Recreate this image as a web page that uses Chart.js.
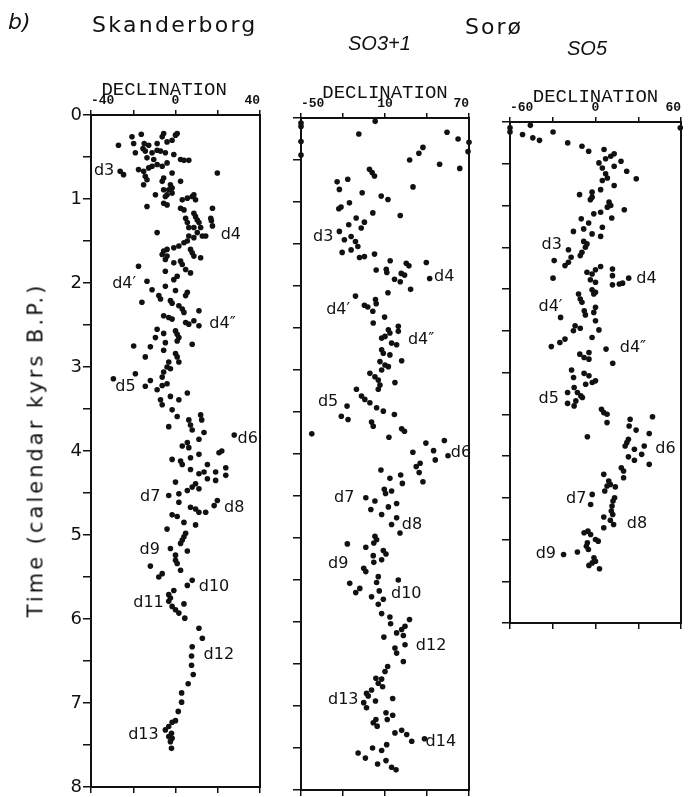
<!DOCTYPE html>
<html>
<head>
<meta charset="utf-8">
<script src="https://cdn.jsdelivr.net/npm/chart.js@4.4.1/dist/chart.umd.min.js"></script>
<style>
  body { margin: 0; background: #fff; }
  #page { position: relative; width: 690px; height: 797px; overflow: hidden; color: #111; font-family: "DejaVu Sans", sans-serif; }
  #page canvas { position: absolute; left: 0; top: 0; }
  .txt { position: absolute; white-space: nowrap; line-height: 1; }
</style>
</head>
<body>
<div id="page">
  <canvas id="skan" width="690" height="797"></canvas>
  <canvas id="so31" width="690" height="797"></canvas>
  <canvas id="so5" width="690" height="797"></canvas>
  <div class="txt" style="left:8px;top:11px;font-size:22px;font-style:italic">b)</div>
  <div class="txt" style="left:92px;top:14px;font-size:22px;letter-spacing:2.3px">Skanderborg</div>
  <div class="txt" style="left:465px;top:16px;font-size:22px;letter-spacing:2px">Sorø</div>
  <div class="txt" style="left:348px;top:33px;font-size:20px;font-style:italic;font-family:'Liberation Sans'">SO3+1</div>
  <div class="txt" style="left:567px;top:38px;font-size:20px;font-style:italic;font-family:'Liberation Sans'">SO5</div>
  <div class="txt" style="left:36px;top:450px;font-size:21px;letter-spacing:3px;transform:translate(-50%,-50%) rotate(-90deg)">Time (calendar kyrs B.P.)</div>
</div>
<script>
// Skanderborg: declination (deg) and age (calendar kyrs B.P.)
const skanDec = [
  -27.0, -20.6, -16.2, -19.8, -14.8, -12.7, -15.4, -8.7, -5.6, -6.3, -4.0, -1.6, 0, 0.8,
  -19.0, -14.3, -11.1, -8.7, -7.1, -4.8, -0.8, -13.5, -10.3, 2.4, 4.0, 6.3,
  -26.2, -24.6, -17.5, -15.1, -12.7, -11.1, -8.7, -6.3, -4.0, -14.3, -13.5, -15.1, 19.8, -1.6,
  -5.6, -6.3, 2.4, -2.4, -1.6, -3.2, -5.6, -4.0, -1.6, -9.5, -4.8,
  -13.5, -5.6, -4.0, 3.2, 5.6, 7.9, 8.7, 9.5, 2.4, 4.0, 17.5, 8.7, 9.5, 10.3, 11.1, 16.7, 17.0, 17.5,
  4.8, 5.6, 6.3, 8.7, 11.9, 10.3, 12.7, -8.7, 14.3, 6.3, 8.7, 5.6, 4.0, 1.6, -0.8,
  -4.0, -5.6, -6.3, -4.0, -4.8, 7.1, 7.9, 8.7, 11.9, -0.8, 2.4, 3.2, 4.8, 7.1, -17.5, -4.8,
  0.8, -0.8, -13.5, -11.1, -4.8, 0, 5.6, 4.8, -7.9, -7.1, -15.9, -2.4, -1.6, 11.1, 1.6, 3.2, 4.0,
  -5.6, -3.2, -1.6, 4.8, 6.3, 8.7, 11.1, -8.7, 0, 0.8, 1.6, 0.8, -9.5, -5.6, -4.8, -19.8, -11.9, 7.9,
  -5.6, -14.3, 0, 0.8, 1.6, -3.2, -4.0, -2.4, -5.6, -6.3, -19.0, -29.4, -11.9, -14.3, -8.7, -6.3, -4.0,
  5.6, -2.4, 1.6, -7.1, -6.3, -1.6, 0.8, -3.2, 6.3, 7.1, 7.9, 11.9, 12.4, 13.5, 11.1, 27.8,
  3.2, 5.6, 6.3, 11.1, 7.1, -1.6, 2.4, 3.2, 20.6, 21.9, 7.1, 15.1, 11.1, 13.5, 15.1, 19.0, 19.0, 23.8, 23.8,
  0, 9.5, 7.9, 5.6, 1.6, -3.2, 11.1, 1.6, 7.1, 9.5, 11.1, 14.3, 18.3, 19.8, -1.6, 0.8,
  4.0, 9.5, -4.0, 4.8, 4.0, 3.2, 2.4, -2.4, 5.6, 0, 0, 0.8, -11.9, 2.4, -6.3, -7.9, 5.6, 7.9,
  -0.8, -3.2, -2.4, -3.2, -1.6, 0, 1.6, 4.0, 4.4, 11.1, 12.7, 7.9, 7.6, 7.6, 8.4, 6.0, 2.9, 2.9, 1.3,
  0, -1.6, -3.2, -4.8, -1.9, -3.2, -1.6, -2.4, -1.9
];
const skanTime = [
  0.36, 0.26, 0.23, 0.34, 0.34, 0.36, 0.40, 0.34, 0.22, 0.26, 0.32, 0.30, 0.24, 0.22,
  0.45, 0.43, 0.45, 0.42, 0.43, 0.45, 0.47, 0.51, 0.53, 0.53, 0.54, 0.54,
  0.67, 0.71, 0.65, 0.67, 0.63, 0.61, 0.59, 0.61, 0.57, 0.73, 0.77, 0.83, 0.69, 0.69,
  0.75, 0.79, 0.79, 0.83, 0.87, 0.89, 0.89, 0.95, 0.93, 0.95, 0.97,
  1.09, 1.05, 1.07, 1.01, 0.99, 0.97, 0.95, 1.01, 1.11, 1.13, 1.11, 1.17, 1.21, 1.25, 1.28, 1.23, 1.26, 1.32,
  1.23, 1.28, 1.34, 1.34, 1.34, 1.40, 1.44, 1.40, 1.44, 1.44, 1.46, 1.50, 1.52, 1.56, 1.58,
  1.60, 1.62, 1.66, 1.68, 1.72, 1.60, 1.64, 1.68, 1.70, 1.76, 1.74, 1.78, 1.84, 1.88, 1.80, 1.86,
  1.92, 1.96, 1.98, 2.08, 2.04, 2.09, 2.11, 2.15, 2.15, 2.19, 2.23, 2.21, 2.24, 2.33, 2.27, 2.31, 2.35,
  2.39, 2.41, 2.43, 2.47, 2.49, 2.45, 2.51, 2.55, 2.57, 2.61, 2.65, 2.69, 2.65, 2.60, 2.71, 2.75, 2.76, 2.73,
  2.80, 2.88, 2.84, 2.88, 2.94, 2.94, 3.00, 3.02, 3.06, 3.12, 3.08, 3.14, 3.16, 3.23, 3.27, 3.22, 3.20,
  3.31, 3.35, 3.39, 3.39, 3.45, 3.51, 3.59, 3.71, 3.63, 3.69, 3.75, 3.57, 3.63, 3.78, 3.86, 3.81,
  3.94, 3.90, 3.96, 4.04, 4.08, 4.10, 4.12, 4.16, 4.02, 4.00, 4.22, 4.16, 4.27, 4.25, 4.33, 4.25, 4.35, 4.20, 4.29,
  4.37, 4.39, 4.43, 4.47, 4.51, 4.53, 4.45, 4.61, 4.67, 4.69, 4.73, 4.73, 4.65, 4.59, 4.76, 4.78,
  4.85, 4.88, 4.93, 4.98, 5.02, 5.06, 5.10, 5.16, 5.19, 5.24, 5.30, 5.34, 5.37, 5.42, 5.46, 5.50, 5.60, 5.54,
  5.66, 5.71, 5.75, 5.79, 5.85, 5.89, 5.93, 5.82, 5.99, 6.11, 6.23, 6.33, 6.44, 6.55, 6.66, 6.77, 6.88, 6.99, 7.10,
  7.21, 7.23, 7.28, 7.32, 7.36, 7.40, 7.42, 7.46, 7.54
];

// Sorø SO3+1
const so31Dec = [
  -50, -50, -50, -50, 3.0, -8.7, 54.3, 62.2, 70, 69.3, 37.1, 34.2, 27.6, 49.0, 63.4, -1.1, 0.8, 2.5,
  -24.2, -16.6, -22.6, 30.0, -6.3, 7.3, 12.1, -15.4, -21.4, -23.0, 1.3, 20.9, -10.6, -4.7, -15.9, -7.0,
  -22.6, -19.0, -14.2, -11.1, -9.4, -20.6, -14.2, -8.2, -4.7, 2.5, 13.7, 25.2, 27.1, 39.5, 3.7, 10.9,
  11.3, 21.6, 24.0, 16.8, 20.9, 41.9, 28.3, 12.1, -11.1, -4.7, -2.3, 3.2, 3.7, 1.3, 9.7,
  1.6, 12.4, 13.5, 10.0, 7.6, 19.5, 19.5, 14.7, 18.3, 7.6, 8.8, 13.5, 6.4, 10.0, 7.6, 12.4, 21.9,
  -0.8, 2.8, 5.2, 6.4, 5.2, 17.1, -10.4, -6.8, -4.4, -0.8, -17.1, 4.0, 8.8, 16.7, -21.2, -16.4,
  0.4, 1.6, 21.9, 23.9, -42.3, 12.8, 39.2, 52.4, 29.9, 44.7, 45.9, 55.0, 32.3, 35.1, 34.4, 37.1,
  7.1, 21.2, 22.4, 13.5, 9.5, 14.7, 10.4, -3.7, 2.8, -0.1, 12.4, 18.3, 7.6, 18.3, 14.7,
  20.7, 2.8, 4.0, 2.0, -16.9, -3.7, 8.8, 10.7, 1.6, 7.6, 2.0, -5.2, -3.7, 5.2, 4.0, 19.5, -15.2,
  -8.0, -10.9, 5.9, 0.4, 8.8, 5.2, 7.6, 13.5, 14.0, 27.5, 24.3, 21.9, 18.3, 23.1, 9.2,
  24.3, 17.1, 18.3, 23.1, 11.9, 10.0, 7.6, 3.5, 5.2, 8.3, -3.2, 0.4, -2.0, 15.5, 3.2, -5.2, -3.2,
  3.5, 1.6, 4.4, 10.7, 11.6, 15.5, 17.1, 21.9, 25.5, 29.1, 38.2,
  -9.2, -4.0, 1.1, 7.6, 11.2, 10.7, 4.7, 14.7, 17.9
];
const so31Time = [
  0.06, 0.10, 0.28, 0.44, 0.04, 0.19, 0.17, 0.25, 0.29, 0.40, 0.35, 0.42, 0.50, 0.55, 0.60, 0.61, 0.65, 0.69,
  0.76, 0.73, 0.85, 0.82, 0.89, 0.93, 0.97, 1.01, 1.06, 1.08, 1.13, 1.16, 1.19, 1.24, 1.27, 1.31,
  1.35, 1.45, 1.41, 1.47, 1.53, 1.60, 1.57, 1.66, 1.65, 1.62, 1.70, 1.73, 1.76, 1.72, 1.81, 1.80,
  1.84, 1.85, 1.87, 1.92, 1.95, 1.91, 2.04, 2.08, 2.12, 2.23, 2.25, 2.16, 2.21, 2.30, 2.37,
  2.44, 2.52, 2.56, 2.60, 2.62, 2.48, 2.54, 2.68, 2.70, 2.76, 2.80, 2.82, 2.90, 2.94, 3.00, 2.96, 2.89,
  3.04, 3.08, 3.12, 3.18, 3.23, 3.15, 3.23, 3.31, 3.35, 3.39, 3.43, 3.45, 3.49, 3.53, 3.55, 3.59,
  3.62, 3.67, 3.70, 3.73, 3.76, 3.80, 3.87, 3.84, 3.98, 3.96, 4.07, 4.02, 4.15, 4.11, 4.22, 4.33,
  4.19, 4.25, 4.35, 4.29, 4.42, 4.44, 4.47, 4.52, 4.56, 4.66, 4.63, 4.59, 4.72, 4.76, 4.84,
  4.94, 4.98, 5.02, 5.06, 5.07, 5.11, 5.15, 5.19, 5.21, 5.26, 5.29, 5.36, 5.40, 5.46, 5.53, 5.50, 5.54,
  5.60, 5.65, 5.63, 5.70, 5.73, 5.79, 5.90, 5.94, 6.02, 5.97, 6.05, 6.09, 6.13, 6.16, 6.18,
  6.27, 6.31, 6.37, 6.47, 6.53, 6.59, 6.68, 6.67, 6.73, 6.77, 6.85, 6.81, 6.88, 6.91, 6.94, 6.96, 7.02,
  7.16, 7.20, 7.24, 7.08, 7.16, 7.11, 7.32, 7.29, 7.34, 7.42, 7.39,
  7.56, 7.62, 7.50, 7.53, 7.46, 7.65, 7.69, 7.73, 7.76
];

// Sorø SO5
const so5Dec = [
  -60, -60, -45.7, -51.2, -44.0, -39.3, -29.8, 59.5, -19.5, -9.5, -4.8, 6.0, 13.1, 10.7, 7.1, 17.9,
  2.4, 4.8, 13.1, 21.9, 7.1, 8.3, 4.8, 28.6, 13.1, 3.6, -11.2, -2.4, -2.4, -3.6, 9.5, 10.7, 8.3,
  20.2, -1.2, 3.6, -10.0, -4.8, 11.4, -15.5, -8.3, 4.8, -2.4, 3.6, -8.3, -6.0, -7.1, -19.0, -9.5, -10.7,
  -29.0, -17.1, -19.0, -21.4, 3.6, 0, -6.0, -2.4, 11.9, 11.9, -29.8, -3.6, 0, 11.9, 16.7, 19.0, 23.3,
  -2.4, 0, -1.2, -11.9, -10.7, -9.5, -24.5, -7.9, -7.1, 0, -1.2, 0, -14.3, -10.7, -15.5, -2.4, 2.4,
  -21.4, -25.0, -31.0, -11.0, -8.0, -4.6, -4.6, 7.4, 12.1, -16.8, -8.0, -4.6, -15.4, 0, -2.3, -6.9,
  -15.0, -12.7, -10.3, -9.2, -19.6, -19.6, -15.0, -13.8, 4.2, 5.8, 8.1, 8.1, -5.7, 24.3, 40.0, 23.6,
  28.5, 37.7, 23.1, 22.0, 20.8, 27.3, 34.2, 32.4, 23.1, 27.3, 37.7, 18.1, 19.7, 19.7, 5.8, 9.3, 10.4,
  8.1, 13.9, 6.5, -2.3, -3.4, 13.4, 12.3, 11.6, 11.1, 12.1, 5.8, 10.4, 12.7, 5.8, -5.3, -8.0, -3.4,
  0, 1.9, -5.7, -6.4, -5.0, -12.7, -22.4, -1.1, 0, -2.3, -4.6, 2.8
];
const so5Time = [
  0.07, 0.12, 0.04, 0.15, 0.19, 0.22, 0.12, 0.07, 0.25, 0.29, 0.35, 0.33, 0.38, 0.41, 0.44, 0.47,
  0.49, 0.55, 0.53, 0.59, 0.62, 0.67, 0.70, 0.68, 0.76, 0.81, 0.87, 0.84, 0.90, 0.93, 0.96, 1.00, 1.02,
  1.05, 1.10, 1.08, 1.16, 1.21, 1.15, 1.31, 1.28, 1.26, 1.34, 1.37, 1.43, 1.46, 1.50, 1.53, 1.56, 1.60,
  1.66, 1.62, 1.68, 1.72, 1.73, 1.77, 1.80, 1.82, 1.76, 1.84, 1.87, 1.89, 1.92, 1.95, 1.94, 1.93, 1.87,
  2.01, 2.04, 2.06, 2.06, 2.12, 2.16, 2.34, 2.26, 2.31, 2.22, 2.28, 2.38, 2.44, 2.47, 2.50, 2.58, 2.49,
  2.60, 2.64, 2.69, 2.78, 2.82, 2.84, 2.76, 2.72, 2.89, 2.97, 3.01, 3.04, 3.06, 3.10, 3.12, 3.14,
  3.18, 3.24, 3.28, 3.30, 3.24, 3.37, 3.40, 3.34, 3.44, 3.48, 3.50, 3.60, 3.77, 3.56, 3.53, 3.64,
  3.69, 3.73, 3.80, 3.84, 3.88, 3.92, 3.88, 3.98, 4.01, 4.05, 4.10, 4.14, 4.18, 4.26, 4.22, 4.30, 4.34,
  4.36, 4.37, 4.42, 4.46, 4.58, 4.50, 4.54, 4.60, 4.66, 4.70, 4.73, 4.77, 4.82, 4.86, 4.90, 4.92, 4.94,
  5.00, 5.02, 5.04, 5.08, 5.12, 5.15, 5.18, 5.22, 5.26, 5.28, 5.31, 5.35
];

// declination ticks along the top/bottom of each column
const skanTicks = [-40, -20, 0, 20, 40];
const so31Ticks = [-50, -20, 10, 40, 70];
const so5Ticks = [-60, -30, 0, 30, 60];
// age ticks (kyrs)
const ageTicks8 = [0, 0.5, 1, 1.5, 2, 2.5, 3, 3.5, 4, 4.5, 5, 5.5, 6, 6.5, 7, 7.5, 8];
const ageTicks6 = [0, 0.5, 1, 1.5, 2, 2.5, 3, 3.5, 4, 4.5, 5, 5.5, 6];

// named declination features (label, declination at label start, age)
const skanTags = ['d3', 'd4', 'd4′', 'd4″', 'd5', 'd6', 'd7', 'd8', 'd9', 'd10', 'd11', 'd12', 'd13'];
const skanTagDec = [-38.6, 21.4, -30, 16, -28.5, 29.4, -16.8, 23, -17, 11, -20, 13.3, -22.4];
const skanTagTime = [0.67, 1.43, 2.01, 2.49, 3.24, 3.85, 4.54, 4.68, 5.18, 5.62, 5.81, 6.43, 7.38];
const so31Tags = ['d3', 'd4', 'd4′', 'd4″', 'd5', 'd6', 'd7', 'd8', 'd9', 'd10', 'd12', 'd13', 'd14'];
const so31TagDec = [-41.4, 45, -32, 26.4, -37.9, 57, -26.4, 22, -30.7, 14.3, 32, -30.7, 39];
const so31TagTime = [1.41, 1.89, 2.28, 2.64, 3.38, 3.99, 4.52, 4.84, 5.31, 5.66, 6.28, 6.93, 7.43];
const so5Tags = ['d3', 'd4', 'd4′', 'd4″', 'd5', 'd6', 'd7', 'd8', 'd9'];
const so5TagDec = [-37.9, 28.6, -40, 17, -40, 42, -20.7, 22, -42];
const so5TagTime = [1.47, 1.88, 2.21, 2.70, 3.32, 3.91, 4.51, 4.81, 5.17];

const INK = '#111';
const MONO = '"Liberation Mono", "DejaVu Sans Mono", monospace';

function noPad(s) {
  s.paddingLeft = 0; s.paddingRight = 0; s.paddingTop = 0; s.paddingBottom = 0;
}

const tagPlugin = {
  id: 'tags',
  afterDatasetsDraw(chart, args, opts) {
    const { ctx, scales } = chart;
    ctx.save();
    ctx.font = '16px "DejaVu Sans"';
    ctx.fillStyle = INK;
    ctx.textBaseline = 'middle';
    opts.names.forEach((name, i) => {
      ctx.fillText(name, scales.x.getPixelForValue(opts.dec[i]), scales.y.getPixelForValue(opts.time[i]));
    });
    ctx.restore();
  }
};

function column(id, p) {
  const decAxis = (pos, h, labels) => ({
    type: 'linear', position: pos, min: p.decTicks[0], max: p.decTicks[p.decTicks.length - 1],
    afterBuildTicks: s => { s.ticks = p.decTicks.map(v => ({ value: v })); },
    afterFit: s => { s.height = h; noPad(s); },
    ticks: {
      display: labels, align: 'inner', padding: 1, autoSkip: false, maxRotation: 0, color: INK,
      font: { family: MONO, size: 13, weight: 'bold' },
      callback: (v, i) => (i % 2 === 0 ? String(v) : '')
    },
    grid: { drawOnChartArea: false, tickLength: pos === 'top' ? 5 : 6, color: INK, lineWidth: 1.5 },
    border: { color: INK, width: 2 },
    title: { display: labels, text: p.title, color: INK, font: { family: MONO, size: 19 }, padding: 0 }
  });

  new Chart(document.getElementById(id), {
    type: 'scatter',
    data: {
      datasets: [{
        data: p.dec.map((d, i) => ({ x: d, y: p.time[i] })),
        pointRadius: 2.8,
        pointBackgroundColor: INK,
        pointBorderWidth: 0,
        clip: false
      }]
    },
    options: {
      responsive: false,
      animation: false,
      events: [],
      layout: { padding: p.pad },
      plugins: {
        legend: { display: false },
        tooltip: { enabled: false },
        tags: { names: p.tags, dec: p.tagDec, time: p.tagTime }
      },
      scales: {
        x: decAxis('top', 36, true),
        x2: decAxis('bottom', 7, false),
        y: {
          type: 'linear', position: 'left', reverse: true, min: 0, max: p.ageTicks[p.ageTicks.length - 1],
          afterBuildTicks: s => { s.ticks = p.ageTicks.map(v => ({ value: v })); },
          afterFit: s => { s.width = p.yWidth; noPad(s); },
          ticks: {
            display: p.ageLabels, padding: 1, autoSkip: false, color: INK,
            font: { family: '"DejaVu Sans"', size: 18 },
            callback: v => (Number.isInteger(v) ? String(v) : '')
          },
          grid: { drawOnChartArea: false, tickLength: 8, color: INK, lineWidth: 1.5 },
          border: { color: INK, width: 2 }
        },
        y2: {
          type: 'linear', position: 'right', reverse: true, min: 0, max: p.ageTicks[p.ageTicks.length - 1],
          afterFit: s => { s.width = 0; noPad(s); },
          ticks: { display: false },
          grid: { drawOnChartArea: false, drawTicks: false },
          border: { color: INK, width: 2 }
        }
      }
    },
    plugins: [tagPlugin]
  });
}

column('skan', {
  dec: skanDec, time: skanTime, decTicks: skanTicks, ageTicks: ageTicks8, ageLabels: true,
  title: 'DECLINATION  ', yWidth: 91, pad: { left: 0, right: 430, top: 79, bottom: 3 },
  tags: skanTags, tagDec: skanTagDec, tagTime: skanTagTime
});
column('so31', {
  dec: so31Dec, time: so31Time, decTicks: so31Ticks, ageTicks: ageTicks8, ageLabels: false,
  title: 'DECLINATION', yWidth: 10, pad: { left: 291, right: 221, top: 82, bottom: 0 },
  tags: so31Tags, tagDec: so31TagDec, tagTime: so31TagTime
});
column('so5', {
  dec: so5Dec, time: so5Time, decTicks: so5Ticks, ageTicks: ageTicks6, ageLabels: false,
  title: 'DECLINATION', yWidth: 10, pad: { left: 500, right: 9, top: 86, bottom: 167 },
  tags: so5Tags, tagDec: so5TagDec, tagTime: so5TagTime
});
</script>
</body>
</html>
